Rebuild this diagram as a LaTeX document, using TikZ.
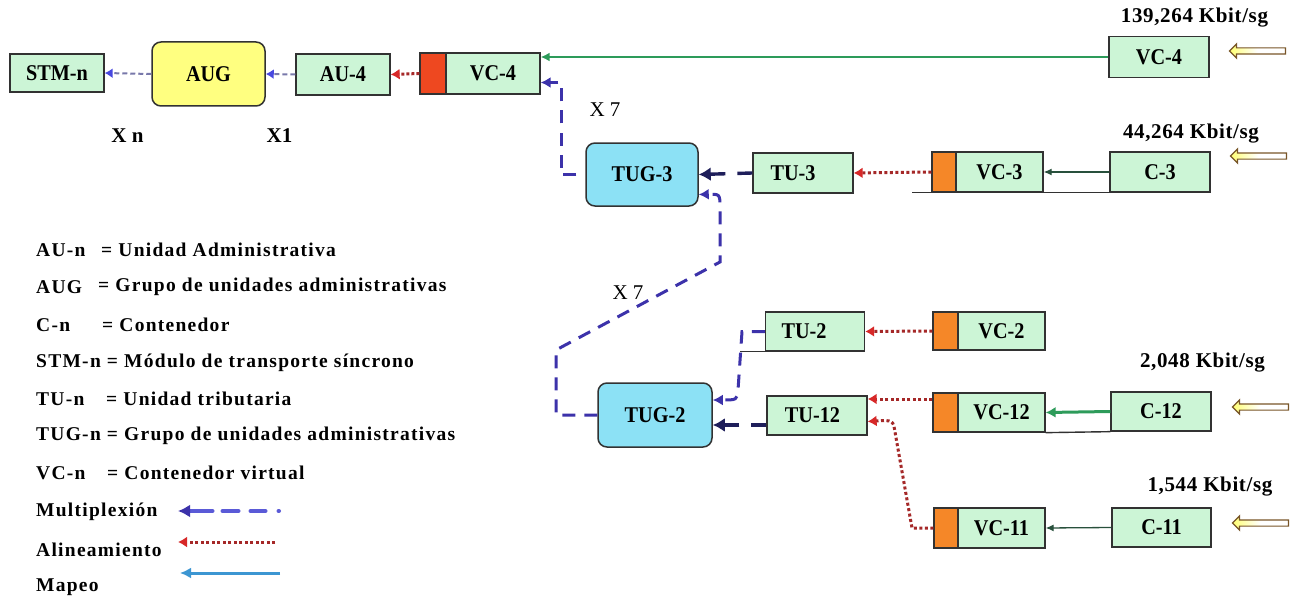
\documentclass[tikz,border=0pt]{standalone}
\usepackage{fontspec}
\setmainfont{Liberation Serif}
\usetikzlibrary{arrows.meta,shapes.arrows,calc}
\definecolor{mint}{RGB}{204,245,214}
\definecolor{orA}{RGB}{238,72,32}
\definecolor{orB}{RGB}{245,135,40}
\definecolor{augY}{RGB}{255,255,128}
\definecolor{tugC}{RGB}{140,225,245}
\definecolor{navy}{RGB}{30,30,90}
\definecolor{muxB}{RGB}{60,50,170}
\definecolor{muxL}{RGB}{90,90,215}
\definecolor{muxG}{RGB}{120,120,170}
\definecolor{alR}{RGB}{165,40,40}
\definecolor{alT}{RGB}{215,40,40}
\definecolor{mapG}{RGB}{45,155,90}
\definecolor{mapD}{RGB}{40,80,60}
\definecolor{mapB}{RGB}{60,150,210}
\definecolor{edge}{RGB}{50,50,50}
\definecolor{inBr}{RGB}{120,85,40}
\begin{document}
\begin{tikzpicture}[x=1pt,y=-1pt,
  gbox/.style={draw=edge, line width=1.3pt, fill=mint, inner sep=0pt,
    font=\fontsize{22.5}{24}\selectfont\bfseries\addfontfeatures{FakeStretch=0.9}},
  obox/.style={draw=edge, line width=1.3pt, fill=orB, inner sep=0pt},
  rbox/.style={draw=edge, line width=1.5pt, rounded corners=9pt, inner sep=0pt,
    font=\fontsize{22.5}{24}\selectfont\bfseries\addfontfeatures{FakeStretch=0.9}},
  rate/.style={font=\fontsize{21}{23}\selectfont\bfseries\addfontfeatures{LetterSpace=3}},
  xlab/.style={font=\fontsize{21}{23}\selectfont},
  legt/.style={anchor=west, inner sep=0pt,
    font=\fontsize{19.5}{21}\selectfont\bfseries\addfontfeatures{LetterSpace=6.5}},
  inarrow/.style={shape=single arrow, shape border rotate=180, draw=inBr,
    line width=1.2pt, left color=yellow!55!white, right color=white,
    middle color=white, minimum height=56pt, inner sep=2.5pt,
    single arrow head extend=4pt},
  muxgray/.style={draw=muxG, line width=2pt, dash pattern=on 5pt off 3pt,
    -{Latex[length=8pt,width=10pt,color=muxL!80!blue]}},
  mux/.style={draw=muxB, line width=3pt, dash pattern=on 13pt off 9pt,
    -{Latex[length=10pt,width=11pt]}},
  muxnavy/.style={draw=navy, line width=3.4pt, dash pattern=on 15pt off 12pt on 30pt,
    -{Latex[length=12pt,width=14pt]}},
  align/.style={draw=alR, line width=3pt, dash pattern=on 3pt off 2.5pt,
    -{Latex[length=9pt,width=11pt,color=alT]}},
  mapthick/.style={draw=mapG, line width=3pt, -{Latex[length=10pt,width=11pt]}},
  mapthin/.style={draw=mapD, line width=1.3pt, -{Latex[length=8pt,width=7pt]}},
  mapline/.style={draw=mapG, line width=1.8pt, -{Latex[length=9pt,width=9pt]}},
  baseln/.style={draw=edge, line width=1.4pt}
]
\useasboundingbox[fill=white] (0,0) rectangle (1292,599);

% ---------- top row ----------
\node[gbox, minimum width=94pt, minimum height=38pt] (stm) at (57,73) {STM-n};
\node[rbox, fill=augY, minimum width=113pt, minimum height=64pt] (aug) at (208.5,74) {AUG};
\node[gbox, minimum width=94pt, minimum height=41pt] (au4) at (343,74.5) {AU-4};
\node[obox, fill=orA, minimum width=26pt, minimum height=41pt] (vc4o) at (433,73.5) {};
\node[gbox, minimum width=94pt, minimum height=41pt] (vc4) at (493,73.5) {VC-4};
\node[xlab] at (127.5,135.5) {\bfseries X n};
\node[xlab] at (279.5,135.5) {\bfseries X1};
\node[xlab] at (605,110) {X 7};

\node[gbox, minimum width=100pt, minimum height=41pt] (vc4r) at (1159,57) {VC-4};
\node[rate] at (1194.5,18) {139,264 Kbit/sg};
\node[inarrow] (in1) at (1259,51) {};

% ---------- TUG-3 row ----------
\node[rbox, fill=tugC, minimum width=112pt, minimum height=63pt] (tug3) at (642,174.5) {TUG-3};
\node[gbox, minimum width=100pt, minimum height=40pt] (tu3) at (803,173) {\hspace*{-20pt}TU-3};
\node[obox, minimum width=24pt, minimum height=40pt] (vc3o) at (944,172) {};
\node[gbox, minimum width=87pt, minimum height=40pt] (vc3) at (999.5,172) {VC-3};
\node[gbox, minimum width=100pt, minimum height=40pt] (c3) at (1160,172) {C-3};
\node[rate] at (1191,133.5) {44,264 Kbit/sg};
\node[inarrow] (in2) at (1260,156) {};
\draw[baseln] ($(vc3o.south west)+(-19,0)$) -- (c3.south east);

% ---------- TUG-2 group ----------
\node[rbox, fill=tugC, minimum width=114pt, minimum height=64pt] (tug2) at (655,415) {TUG-2};
\node[gbox, minimum width=99pt, minimum height=39pt] (tu2) at (815,331.5) {\hspace*{-22pt}TU-2};
\node[obox, minimum width=25pt, minimum height=38pt] (vc2o) at (945.5,331) {};
\node[gbox, minimum width=87pt, minimum height=38pt] (vc2) at (1001.5,331) {VC-2};
\draw[baseln] (tu2.south west) -- ++(-25,0);

\node[gbox, minimum width=100pt, minimum height=39pt] (tu12) at (817,415.5) {\hspace*{-9pt}TU-12};
\node[obox, minimum width=25pt, minimum height=39pt] (vc12o) at (945.5,412.5) {};
\node[gbox, minimum width=87pt, minimum height=39pt] (vc12) at (1001.5,412.5) {VC-12};
\node[gbox, minimum width=100pt, minimum height=39pt] (c12) at (1161,411.5) {C-12};
\node[rate] at (1202.5,363) {2,048 Kbit/sg};
\node[inarrow] (in3) at (1262,407) {};
\draw[baseln] (vc12.south east) -- (c12.south west);

\node[obox, minimum width=24pt, minimum height=40pt] (vc11o) at (946,528) {};
\node[gbox, minimum width=87pt, minimum height=40pt] (vc11) at (1001.5,528) {VC-11};
\node[gbox, minimum width=99pt, minimum height=39pt] (c11) at (1161.5,527.5) {C-11};
\node[rate] at (1210,487) {1,544 Kbit/sg};
\node[inarrow] (in4) at (1262,523) {};
\node[xlab] at (628,293) {X 7};

% ---------- connectors ----------
\draw[muxgray] (aug.west) -- (stm.east);
\draw[muxgray] (au4.west) -- (aug.east);
\draw[align, dash pattern=on 3pt off 2pt] (vc4o.west) -- (au4.east);
\draw[mapline] (vc4r.west) -- (vc4.east |- vc4r.west);

\draw[mux] ($(tug3.west)+(-9,0)$) -- ++(-15,0) |- ($(vc4.east)+(0,9)$);
\draw[muxnavy] (tu3.west) -- (tug3.east);
\draw[align] (vc3o.west) -- (tu3.east);
\draw[mapthin] (c3.west) -- (vc3.east);

\draw[mux] (tug2.west) -- (556,415) -- (556,350) -- (720,262) -- (720,208)
  .. controls (720,194) .. ($(tug3.east)+(0,20)$);
\draw[mux] (tu2.west) -- (742,331.5) -- (738,390)
  .. controls (737,400) .. ($(tug2.east)+(0,-15)$);
\draw[muxnavy] ($(tu12.west)+(0,9.5)$) -- ($(tug2.east)+(0,10)$);

\draw[align] (vc2o.west) -- (tu2.east);
\draw[align] ($(vc12o.west)+(0,-13.5)$) -- ($(tu12.east)+(0,-16.5)$);
\draw[align] (vc11o.west) -- (912,528) -- (895,432)
  .. controls (893,420) .. ($(tu12.east)+(0,6)$);
\draw[mapthick] (c12.west) -- (vc12.east);
\draw[mapthin] (c11.west) -- (vc11.east);

% ---------- legend ----------
\node[legt] (l1) at (36,250) {AU-n};
\node[legt] (d1) at (101,250) {= Unidad Administrativa};
\node[legt] (l2) at (36,287) {AUG};
\node[legt] (d2) at (98,287) {= Grupo de unidades administrativas};
\node[legt] (l3) at (36,325) {C-n};
\node[legt] (d3) at (102,325) {= Contenedor};
\node[legt] (l4) at (36,363) {STM-n = Módulo de transporte síncrono};
\node[legt] (l5) at (36,399) {TU-n};
\node[legt] (d5) at (106,399) {= Unidad tributaria};
\node[legt] (l6) at (36,436) {TUG-n = Grupo de unidades administrativas};
\node[legt] (l7) at (36,473) {VC-n};
\node[legt] (d7) at (107,473) {= Contenedor virtual};
\node[legt] (l8) at (36,512) {Multiplexión};
\node[legt] (l9) at (36,550) {Alineamiento};
\node[legt] (l10) at (36,587) {Mapeo};

\coordinate (m1) at (279,511);
\coordinate (m2) at (178,511);
\draw[draw=muxL, line width=4pt, line cap=round,
  dash pattern=on 0.5pt off 13pt on 15pt off 12pt on 16pt off 10pt on 30pt,
  -{Latex[length=12pt,width=13pt,color=muxB]}] (m1) -- (m2);
\coordinate (a1) at (275,542);
\coordinate (a2) at (178,542);
\draw[align, line width=3pt] (a1) -- (a2);
\coordinate (p1) at (280,573);
\coordinate (p2) at (180,573);
\draw[draw=mapB, line width=3pt, -{Latex[length=11pt,width=11pt]}] (p1) -- (p2);
\end{tikzpicture}
\end{document}
